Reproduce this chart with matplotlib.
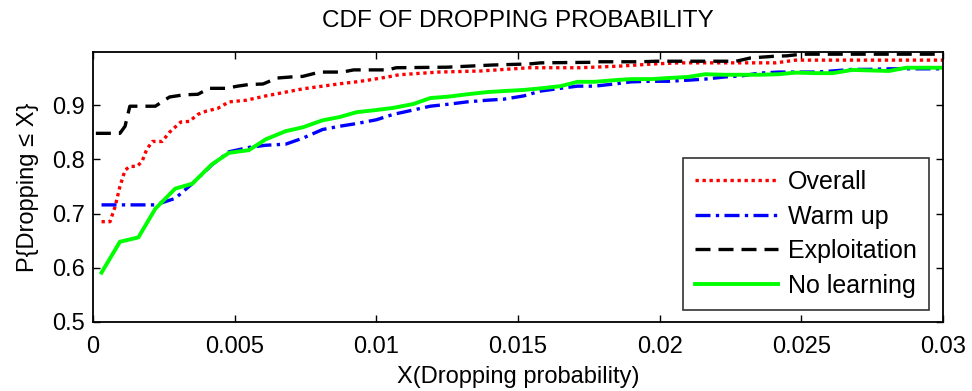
import matplotlib
matplotlib.use("Agg")
import matplotlib.pyplot as plt

plt.rcParams['font.family'] = ['Liberation Sans', 'DejaVu Sans']

# Overall
x_overall = [0.0003, 0.0006, 0.00078, 0.00095, 0.00113, 0.0013, 0.00155, 0.00173, 0.0019, 0.0021,
             0.00244, 0.0027, 0.0031, 0.0034, 0.0037, 0.004, 0.0044, 0.0048, 0.0054, 0.0061,
             0.007, 0.0074, 0.0081, 0.0088, 0.0093, 0.0097, 0.0104, 0.0108, 0.0122, 0.0137,
             0.0154, 0.0172, 0.0186, 0.0198, 0.0207, 0.0241, 0.0248, 0.0261, 0.03]
y_overall = [0.685, 0.685, 0.713, 0.75, 0.78, 0.787, 0.787, 0.796, 0.819, 0.833,
             0.833, 0.85, 0.869, 0.87, 0.883, 0.889, 0.894, 0.906, 0.909, 0.917,
             0.926, 0.93, 0.935, 0.94, 0.943, 0.946, 0.952, 0.956, 0.961, 0.963,
             0.969, 0.969, 0.972, 0.976, 0.978, 0.978, 0.983, 0.983, 0.983]

# Common sample points for the warm-up and no-learning runs
x_grid = [0.0003, 0.00095, 0.0016, 0.0022, 0.0029, 0.0035, 0.0042, 0.0048, 0.0055, 0.0061,
          0.0068, 0.0074, 0.0081, 0.0087, 0.0093, 0.0100, 0.0106, 0.0113, 0.0119, 0.0126,
          0.0132, 0.0139, 0.0145, 0.0152, 0.0158, 0.0165, 0.0171, 0.0177, 0.0184, 0.0190,
          0.0197, 0.0203, 0.0210, 0.0216, 0.0223, 0.0229, 0.0235, 0.0242, 0.0248, 0.0255,
          0.0261, 0.0268, 0.0274, 0.0281, 0.0287, 0.0294, 0.0300]

y_warmup = [0.716, 0.716, 0.716, 0.716, 0.728, 0.755, 0.79, 0.814, 0.822, 0.826,
            0.828, 0.839, 0.855, 0.861, 0.866, 0.873, 0.883, 0.891, 0.898, 0.902,
            0.906, 0.909, 0.911, 0.917, 0.926, 0.931, 0.935, 0.935, 0.939, 0.943,
            0.944, 0.944, 0.946, 0.948, 0.952, 0.954, 0.959, 0.961, 0.961, 0.961,
            0.963, 0.966, 0.966, 0.967, 0.967, 0.967, 0.967]

y_nolearn = [0.591, 0.648, 0.656, 0.709, 0.746, 0.755, 0.791, 0.812, 0.817, 0.837,
             0.852, 0.859, 0.872, 0.878, 0.887, 0.891, 0.895, 0.902, 0.913, 0.916,
             0.920, 0.924, 0.926, 0.928, 0.931, 0.935, 0.943, 0.943, 0.946, 0.948,
             0.948, 0.950, 0.952, 0.957, 0.956, 0.956, 0.956, 0.957, 0.960, 0.959,
             0.959, 0.965, 0.964, 0.963, 0.969, 0.969, 0.969]

# Exploitation
x_exploit = [0.0001, 0.00095, 0.00113, 0.0013, 0.0022, 0.0027, 0.0032, 0.0037, 0.0041, 0.0047,
             0.0051, 0.0055, 0.006, 0.0065, 0.007, 0.0074, 0.008, 0.0088, 0.0092, 0.0104,
             0.0107, 0.0125, 0.0141, 0.0154, 0.0158, 0.0176, 0.0179, 0.0193, 0.0199, 0.0227,
             0.0232, 0.024, 0.0245, 0.025, 0.03]
y_exploit = [0.848, 0.848, 0.861, 0.898, 0.898, 0.915, 0.919, 0.920, 0.931, 0.931,
             0.935, 0.938, 0.939, 0.950, 0.952, 0.953, 0.961, 0.961, 0.965, 0.965,
             0.969, 0.970, 0.974, 0.976, 0.978, 0.979, 0.980, 0.980, 0.981, 0.981,
             0.987, 0.990, 0.991, 0.994, 0.994]

x_ticks = [0, 0.005, 0.01, 0.015, 0.02, 0.025, 0.03]
x_ticklabels = ['0', '0.005', '0.01', '0.015', '0.02', '0.025', '0.03']
y_ticks = [0.5, 0.6, 0.7, 0.8, 0.9]
y_ticklabels = ['0.5', '0.6', '0.7', '0.8', '0.9']

fig = plt.figure(figsize=(9.72, 3.91), dpi=100)
ax = fig.add_axes([0.0957, 0.1765, 0.8745, 0.6905])

ax.plot(x_overall, y_overall, color='#ff0000', lw=2.4, linestyle=(0, (1, 1.1)),
        dash_capstyle='butt', label='Overall')
ax.plot(x_grid, y_warmup, color='#0000ff', lw=2.4, linestyle=(0, (4.5, 1.6, 1, 1.6)),
        dash_capstyle='butt', label='Warm up')
ax.plot(x_exploit, y_exploit, color='black', lw=2.4, linestyle=(0, (4.5, 2.4)),
        dash_capstyle='butt', label='Exploitation')
ax.plot(x_grid, y_nolearn, color='#00ff00', lw=2.8, solid_joinstyle='miter',
        label='No learning')

ax.set_xlim(0, 0.03)
ax.set_ylim(0.5, 0.998)
ax.set_xticks(x_ticks)
ax.set_xticklabels(x_ticklabels)
ax.set_yticks(y_ticks)
ax.set_yticklabels(y_ticklabels)
ax.tick_params(direction='in', length=5, width=1, top=True, right=True,
               labelsize=17, pad=6)
ax.tick_params(axis='x', pad=10)
for s in ax.spines.values():
    s.set_linewidth(1.3)

ax.set_title('CDF OF DROPPING PROBABILITY', fontsize=17.5, pad=18)
ax.set_xlabel('X(Dropping probability)', fontsize=17, labelpad=6)
ax.set_ylabel('P{Dropping \u2264 X}', fontsize=17, labelpad=9)

leg = ax.legend(loc='lower right', fontsize=18, frameon=True, fancybox=False,
                edgecolor='black', handlelength=3.3, handletextpad=0.4,
                labelspacing=0.42, borderpad=0.5, borderaxespad=0,
                bbox_to_anchor=(0.9835, 0.044))
leg.get_frame().set_linewidth(1.2)

fig.savefig('out.png', dpi=100)
